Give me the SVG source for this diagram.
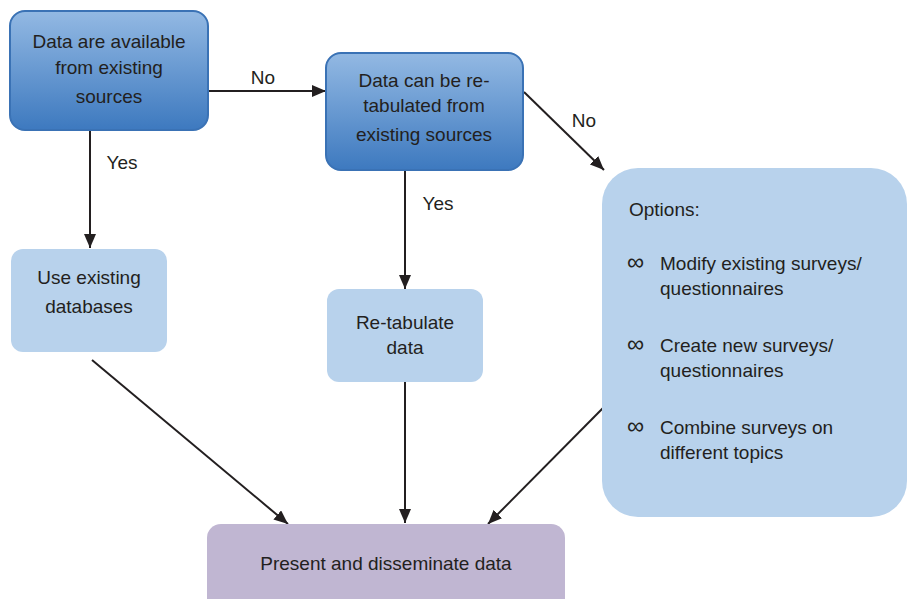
<svg xmlns="http://www.w3.org/2000/svg" width="908" height="599" viewBox="0 0 908 599">
<defs>
<linearGradient id="blueGrad" x1="0" y1="0" x2="0" y2="1">
<stop offset="0" stop-color="#93b9e3"/>
<stop offset="1" stop-color="#3d79bf"/>
</linearGradient>
<marker id="arrow" viewBox="0 0 14 12" refX="14" refY="6" markerWidth="14" markerHeight="12" markerUnits="userSpaceOnUse" orient="auto">
<path d="M0,0 L14,6 L0,12 z" fill="#231f20"/>
</marker>
</defs>
<style>
text{font-family:"Liberation Sans",Arial,sans-serif;font-size:19px;fill:#231f20}
.c{text-anchor:middle}
.inf{font-size:24px}
.dark{fill:url(#blueGrad);stroke:#3a72b5;stroke-width:2}
.light{fill:#b8d2ec}
.purple{fill:#c0b6d2}
.conn line{stroke:#231f20;stroke-width:2;marker-end:url(#arrow)}
</style>
<g id="connectors" class="conn">
<line x1="208" y1="91" x2="326" y2="91"/>
<line x1="90" y1="130" x2="90" y2="248"/>
<line x1="405" y1="170" x2="405" y2="289"/>
<line x1="524" y1="92" x2="604" y2="170"/>
<line x1="92" y1="360" x2="288" y2="524"/>
<line x1="405" y1="382" x2="405" y2="523"/>
<line x1="603" y1="408" x2="488" y2="524"/>
</g>
<g id="labels">
<text x="263" y="84" class="c">No</text>
<text x="122" y="169" class="c">Yes</text>
<text x="438" y="210" class="c">Yes</text>
<text x="584" y="127" class="c">No</text>
</g>
<g id="node-available">
<rect x="10" y="11" width="198" height="119" rx="15" class="dark"/>
<text x="109" y="48" class="c">Data are available</text>
<text x="109" y="74" class="c">from existing</text>
<text x="109" y="103" class="c">sources</text>
</g>
<g id="node-retabulated">
<rect x="326" y="53" width="197" height="117" rx="15" class="dark"/>
<text x="424" y="87" class="c">Data can be re-</text>
<text x="424" y="112" class="c">tabulated from</text>
<text x="424" y="141" class="c">existing sources</text>
</g>
<g id="node-use">
<rect x="11" y="249" width="156" height="103" rx="12" class="light"/>
<text x="89" y="284" class="c">Use existing</text>
<text x="89" y="313" class="c">databases</text>
</g>
<g id="node-retab">
<rect x="327" y="289" width="156" height="93" rx="12" class="light"/>
<text x="405" y="329" class="c">Re-tabulate</text>
<text x="405" y="354" class="c">data</text>
</g>
<g id="node-options">
<rect x="602" y="168" width="305" height="349" rx="36" class="light"/>
<text x="629" y="216">Options:</text>
<text x="627" y="270" class="inf">∞</text>
<text x="660" y="270">Modify existing surveys/</text>
<text x="660" y="295">questionnaires</text>
<text x="627" y="352" class="inf">∞</text>
<text x="660" y="352">Create new surveys/</text>
<text x="660" y="377">questionnaires</text>
<text x="627" y="434" class="inf">∞</text>
<text x="660" y="434">Combine surveys on</text>
<text x="660" y="459">different topics</text>
</g>
<g id="node-present">
<rect x="207" y="524" width="358" height="100" rx="14" class="purple"/>
<text x="386" y="570" class="c">Present and disseminate data</text>
</g>
</svg>
